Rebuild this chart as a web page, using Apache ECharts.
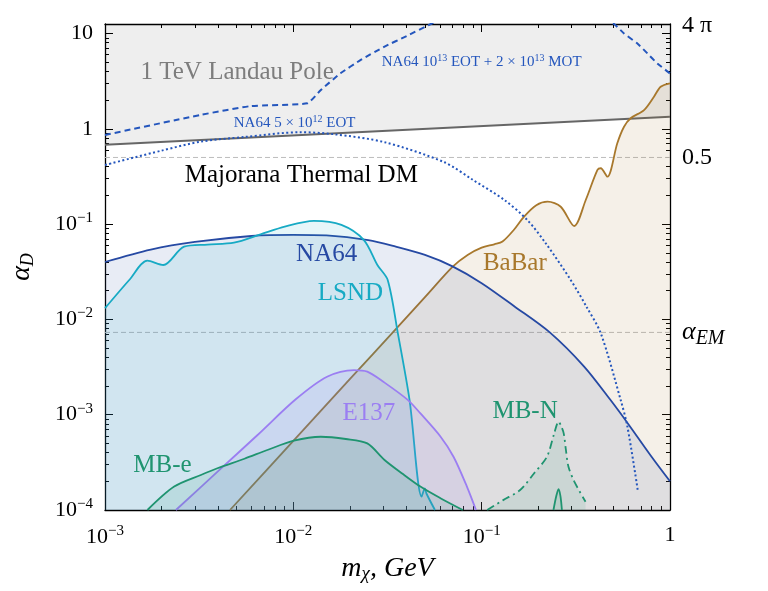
<!DOCTYPE html>
<html>
<head>
<meta charset="utf-8">
<script src="https://cdn.jsdelivr.net/npm/echarts@6/dist/echarts.min.js"></script>
<style>
  html, body { margin: 0; padding: 0; background: #fff; }
  #app { width: 768px; height: 591px; }
</style>
</head>
<body>
<div id="app"></div>
<script>
// m_chi (GeV) on x, alpha_D on y, both log
const landauX = [1e-3, 1];
const landauY = [0.68, 1.34];

const na64X = [1e-3, 1.75e-3, 3e-3, 6e-3, 1e-2, 1.5e-2, 2.5e-2, 3.5e-2, 5e-2, 7e-2, 0.1, 0.15, 0.23, 0.35, 0.48, 0.6, 0.8, 1];
const na64Y = [0.040, 0.054, 0.065, 0.075, 0.077, 0.076, 0.068, 0.058, 0.0474, 0.036, 0.024, 0.0136, 0.0073, 0.0032, 0.00145, 0.0008, 0.00036, 0.0002];

const lsndX = [1e-3, 1.345e-3, 1.68e-3, 2.04e-3, 2.63e-3, 3.5e-3, 4.84e-3, 6.7e-3, 9e-3, 1.285e-2, 1.8e-2, 2.37e-2, 2.8e-2, 3.17e-2, 3.59e-2, 4.14e-2, 4.8e-2, 4.99e-2, 5.09e-2, 5.65e-2];
const lsndY = [0.0131, 0.0259, 0.0413, 0.0372, 0.058, 0.061, 0.0638, 0.078, 0.094, 0.108, 0.098, 0.068, 0.037, 0.0259, 0.00714, 0.00143, 1.38e-4, 1.69e-4, 1.49e-4, 1e-4];

const e137X = [2.38e-3, 4e-3, 6.5e-3, 1.03e-2, 1.51e-2, 2.1e-2, 2.47e-2, 3.02e-2, 4.05e-2, 4.73e-2, 6.04e-2, 7.1e-2, 8.35e-2, 9.33e-2];
const e137Y = [1e-4, 2.57e-4, 6.2e-4, 1.45e-3, 2.5e-3, 2.94e-3, 2.83e-3, 2.2e-3, 1.43e-3, 1.03e-3, 5.9e-4, 3.6e-4, 1.76e-4, 1e-4];

const babarX = [4.61e-3, 1e-2, 2e-2, 3.5e-2, 5e-2, 7.02e-2, 8.42e-2, 0.1, 0.1167, 0.129, 0.148, 0.168, 0.195, 0.224, 0.263, 0.31, 0.357, 0.412, 0.429, 0.465, 0.525, 0.57, 0.618, 0.728, 0.822, 0.892, 1];
const babarY = [1e-4, 5.3e-4, 2.37e-3, 7.9e-3, 0.0171, 0.0357, 0.0474, 0.0565, 0.0614, 0.0655, 0.0867, 0.12, 0.158, 0.172, 0.152, 0.0955, 0.179, 0.37, 0.385, 0.314, 0.705, 1.05, 1.29, 1.57, 2.17, 2.76, 3.0];

const mbeX = [1.68e-3, 2.33e-3, 3.23e-3, 3.95e-3, 5.5e-3, 7.28e-3, 1.007e-2, 1.4e-2, 1.9e-2, 2.47e-2, 3.05e-2, 3.8e-2, 4.75e-2, 6.04e-2, 7.94e-2];
const mbeY = [1e-4, 1.76e-4, 2.33e-4, 2.74e-4, 3.45e-4, 4.26e-4, 5.33e-4, 5.87e-4, 5.56e-4, 5.0e-4, 3.35e-4, 2.4e-4, 1.75e-4, 1.33e-4, 1e-4];

const mbnX = [0.107, 0.13, 0.16, 0.19, 0.222, 0.243, 0.256, 0.265, 0.273, 0.28, 0.289, 0.31, 0.356];
const mbnY = [1e-4, 1.27e-4, 1.62e-4, 2.43e-4, 3.62e-4, 6.4e-4, 8.45e-4, 7.5e-4, 6.3e-4, 4.3e-4, 2.84e-4, 2.0e-4, 1.22e-4];

const mbPeakX = [0.2406, 0.249, 0.256, 0.262, 0.2667];
const mbPeakY = [1e-4, 1.4e-4, 1.65e-4, 1.4e-4, 1e-4];

// NA64 projections
const eotX = [1e-3, 2e-3, 3.23e-3, 5.5e-3, 1.09e-2, 1.64e-2, 3.05e-2, 6.34e-2, 0.09, 0.132, 0.175, 0.22, 0.297, 0.36, 0.429, 0.547, 0.594, 0.676];
const eotY = [0.417, 0.59, 0.733, 0.82, 0.92, 0.877, 0.723, 0.445, 0.29, 0.179, 0.11, 0.062, 0.0259, 0.0136, 7.14e-3, 1.43e-3, 7.5e-4, 1.56e-4];

const motX = [1e-3, 3.23e-3, 5.94e-3, 1.186e-2, 1.4e-2, 1.78e-2, 2.28e-2, 3.05e-2, 4e-2, 5.37e-2, 6.5e-2, 0.1, 0.4, 0.45, 0.505, 0.57, 0.671, 0.759, 0.857, 1];
const motY = [0.861, 1.40, 1.73, 1.85, 2.55, 3.82, 5.27, 7.28, 9.4, 12.57, 15, null, 16, 14.2, 12.57, 10.0, 7.85, 6.17, 4.84, 3.8];

// 0.5 and alpha_EM
const refLines = [0.5, 1 / 137];

const xMajor = [1e-3, 1e-2, 1e-1, 1];
const yMajor = [1e-4, 1e-3, 1e-2, 1e-1, 1, 10];
const rightLabels = [12, 0.5, 1 / 137];

const notes = [
  { text: '1 TeV Landau Pole', x: 5.03e-3, y: 3.88, color: '#7d7d7d' },
  { text: 'Majorana Thermal DM', x: 0.01102, y: 0.32, color: '#000000' },
  { text: 'NA64', x: 0.01503, y: 0.0485, color: '#2649a3' },
  { text: 'LSND', x: 0.0201, y: 0.0189, color: '#17aac4' },
  { text: 'BaBar', x: 0.150, y: 0.0391, color: '#a8782c' },
  { text: 'E137', x: 0.0252, y: 1.04e-3, color: '#9b7ef2' },
  { text: 'MB-e', x: 2.02e-3, y: 2.9e-4, color: '#1f9470' },
  { text: 'MB-N', x: 0.170, y: 1.07e-3, color: '#1f9470' },
  { text: '{t|NA64 5 × 10}{p|12}{t| EOT}', x: 0.01016, y: 1.16, color: '#2456bd', small: true },
  { text: '{t|NA64 10}{p|13}{t| EOT + 2 × 10}{p|13}{t| MOT}', x: 0.1, y: 5.02, color: '#2456bd', small: true }
];

const SERIF = "'Liberation Serif', 'Times New Roman', serif";

function pairs(xs, ys) {
  return xs.map((x, i) => [x, ys[i] == null ? '-' : ys[i]]);
}

function minorsBetween(lo, hi) {
  let out = [];
  for (let e = Math.round(Math.log10(lo)); e < Math.log10(hi); e++) {
    for (let k = 2; k <= 9; k++) {
      let v = k * Math.pow(10, e);
      if (v > lo && v < hi) out.push(v);
    }
  }
  return out;
}

function powLabel(v) {
  let e = Math.round(Math.log10(v));
  if (e === 0) return '1';
  if (e === 1) return '10';
  return '{b|10}{s|−' + (-e) + '}';
}

const tickRich = {
  b: { fontSize: 22, fontFamily: SERIF, color: '#000' },
  s: { fontSize: 15, fontFamily: SERIF, color: '#000', padding: [0, 0, 12, 0] }
};

const Y_MAX = 4 * Math.PI;

function xAxisDef(pos, ticks, len, withLabels, withLine) {
  return {
    type: 'log', logBase: 10, min: 1e-3, max: 1, position: pos,
    axisLine: { show: withLine, onZero: false, lineStyle: { color: '#000', width: 1.3 } },
    axisTick: { show: true, inside: true, length: len, customValues: ticks, lineStyle: { color: '#000', width: 1 } },
    axisLabel: withLabels ? {
      show: true, customValues: ticks, margin: 14, formatter: powLabel, rich: tickRich,
      fontSize: 22, fontFamily: SERIF, color: '#000'
    } : { show: false },
    splitLine: { show: false }
  };
}

function yAxisDef(pos, ticks, len, withLabels, withLine) {
  return {
    type: 'log', logBase: 10, min: 1e-4, max: Y_MAX, position: pos,
    axisLine: { show: withLine, onZero: false, lineStyle: { color: '#000', width: 1.3 } },
    axisTick: { show: true, inside: true, length: len, customValues: ticks, lineStyle: { color: '#000', width: 1 } },
    axisLabel: withLabels ? {
      show: true, customValues: ticks, margin: 12, formatter: powLabel, rich: tickRich,
      fontSize: 22, fontFamily: SERIF, color: '#000'
    } : { show: false },
    splitLine: { show: false }
  };
}

const xMinor = minorsBetween(1e-3, 1);
const yMinor = minorsBetween(1e-4, Y_MAX);

const xAxes = [
  xAxisDef('bottom', xMajor, 8, true, true),
  xAxisDef('bottom', xMinor, 4, false, false),
  xAxisDef('top', xMajor, 8, false, true),
  xAxisDef('top', xMinor, 4, false, false)
];
xAxes[0].name = '{m|m}{c|χ}{m|, GeV}';
xAxes[0].nameLocation = 'middle';
xAxes[0].nameGap = 44;
xAxes[0].nameTextStyle = {
  rich: {
    m: { fontSize: 28, fontStyle: 'italic', fontFamily: SERIF, color: '#000' },
    c: { fontSize: 19, fontStyle: 'italic', fontFamily: SERIF, color: '#000', padding: [10, 0, 0, 0] }
  }
};

const yAxes = [
  yAxisDef('left', yMajor, 8, true, true),
  yAxisDef('left', yMinor, 4, false, false),
  yAxisDef('right', yMajor, 8, false, true),
  yAxisDef('right', yMinor, 4, false, false),
  {
    type: 'log', logBase: 10, min: 1e-4, max: Y_MAX, position: 'right',
    axisLine: { show: false }, axisTick: { show: false }, splitLine: { show: false },
    axisLabel: {
      show: true, customValues: rightLabels, margin: 12, fontSize: 24, fontFamily: SERIF, color: '#000',
      formatter: function (v) {
        if (v > 5) return '4 π';
        if (v > 0.1) return '0.5';
        return '{a|α}{e|EM}';
      },
      rich: {
        a: { fontSize: 26, fontStyle: 'italic', fontFamily: SERIF, color: '#000' },
        e: { fontSize: 20, fontStyle: 'italic', fontFamily: SERIF, color: '#000', padding: [12, 0, 0, 0] }
      }
    }
  }
];
yAxes[0].name = '{a|α}{d|D}';
yAxes[0].nameLocation = 'middle';
yAxes[0].nameGap = 68;
yAxes[0].nameTextStyle = {
  rich: {
    a: { fontSize: 28, fontStyle: 'italic', fontFamily: SERIF, color: '#000' },
    d: { fontSize: 18, fontStyle: 'italic', fontFamily: SERIF, color: '#000', padding: [12, 0, 0, 0] }
  }
};

function region(name, xs, ys, color, fill, z) {
  return {
    name: name, type: 'line', data: pairs(xs, ys), showSymbol: false, symbol: 'none',
    smooth: 0.3, z: z, silent: true,
    lineStyle: { color: color, width: 1.8 },
    areaStyle: { color: fill, origin: 'start', opacity: 1 }
  };
}

var myChart = echarts.init(document.getElementById('app'));
var option = {
  animation: false,
  backgroundColor: '#fff',
  grid: { left: 104, right: 98, top: 24, bottom: 81 },
  xAxis: xAxes,
  yAxis: yAxes,
  series: [
    {
      name: 'Landau', type: 'line', data: pairs(landauX, landauY), showSymbol: false, symbol: 'none', z: 1, silent: true,
      lineStyle: { color: '#666', width: 2 },
      areaStyle: { color: 'rgba(0,0,0,0.068)', origin: 'end', opacity: 1 }
    }
  ].concat(refLines.map(v => ({
    name: 'ref ' + v, type: 'line', data: [[1e-3, v], [1, v]], showSymbol: false, symbol: 'none', z: 1, silent: true,
    lineStyle: { color: '#bdbdbd', type: [5, 3], width: 1 }
  }))).concat([
    region('BaBar', babarX, babarY, '#a8782c', 'rgba(168,120,44,0.11)', 2),
    region('NA64', na64X, na64Y, '#2649a3', 'rgba(43,79,168,0.11)', 3),
    region('LSND', lsndX, lsndY, '#17aac4', 'rgba(23,169,196,0.11)', 4),
    region('E137', e137X, e137Y, '#9b7ef2', 'rgba(155,126,242,0.13)', 5),
    region('MB-e', mbeX, mbeY, '#1f9470', 'rgba(31,148,112,0.12)', 6),
    Object.assign(region('MB-N', mbnX, mbnY, '#1f9470', 'rgba(31,148,112,0.1)', 6), {
      lineStyle: { color: '#1f9470', width: 1.8, type: [8, 4, 2, 4] }
    }),
    region('MB-N peak', mbPeakX, mbPeakY, '#1f9470', 'rgba(31,148,112,0.1)', 6),
    {
      name: 'NA64 5e12 EOT', type: 'line', data: pairs(eotX, eotY), showSymbol: false, symbol: 'none',
      smooth: 0.3, z: 7, silent: true,
      lineStyle: { color: '#2456bd', width: 2, type: [2, 2.5] }
    },
    {
      name: 'NA64 1e13 EOT + 2e13 MOT', type: 'line', data: pairs(motX, motY), showSymbol: false, symbol: 'none',
      smooth: 0.15, z: 7, silent: true,
      lineStyle: { color: '#2456bd', width: 2, type: [6, 4] }
    },
    {
      name: 'notes', type: 'scatter', symbolSize: 0, z: 10, silent: true,
      itemStyle: { opacity: 1 },
      data: notes.map(n => ({
        value: [n.x, n.y],
        label: {
          show: true, position: 'inside', formatter: n.text, color: n.color, opacity: 1,
          fontSize: n.small ? 15 : 25, fontFamily: SERIF,
          rich: {
            t: { fontSize: 15, fontFamily: SERIF, color: n.color },
            p: { fontSize: 10, fontFamily: SERIF, color: n.color, padding: [0, 0, 7, 0] }
          }
        }
      }))
    }
  ])
};
option && myChart.setOption(option);
</script>
</body>
</html>
